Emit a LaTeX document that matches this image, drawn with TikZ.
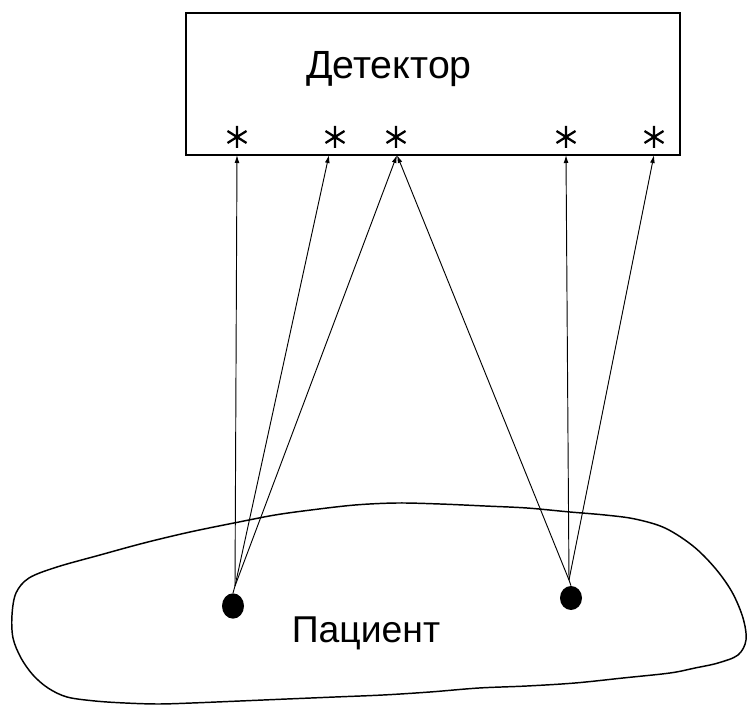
\documentclass[tikz,border=0pt]{standalone}
\usepackage{fontspec}
\setmainfont{Liberation Sans}
\usetikzlibrary{arrows.meta,shapes.geometric}
\begin{document}
\begin{tikzpicture}[x=0.75pt,y=-0.75pt,
  ray/.style={line width=0.7pt,-{Latex[length=6pt,width=3.6pt]}},
  boxline/.style={line width=1.5pt},
  blobline/.style={line width=1.1pt,line join=round},
  dotnode/.style={ellipse,fill=black,inner sep=0pt,minimum width=16.5pt,minimum height=19pt},
  txt/.style={inner sep=0pt},
  asterisk/.style={inner sep=0pt,minimum size=16pt},
  astline/.style={line width=1.7pt}]
\useasboundingbox (0,0) rectangle (751,706);
% detector box
\node[draw,boxline,minimum width=370.5pt,minimum height=106.5pt,anchor=north west,inner sep=0pt] (det) at (185,12) {};
\node[txt,font=\fontsize{29.5}{32}\selectfont] (dett) at (389,69) {Детектор};
% asterisks
\foreach \n/\x in {1/237,2/335,3/396,4/566,5/654}{
  \node[asterisk] (st\n) at (\x,137) {};
  \draw[astline] (st\n.center) +(0,-11) -- +(0,11)
        (st\n.center) +(-9.5,-6) -- +(9.5,6)
        (st\n.center) +(-9.5,6) -- +(9.5,-6);
}
% arrow targets on box bottom
\coordinate (t1) at (237,155);
\coordinate (t2) at (329,155);
\coordinate (t3) at (397,155);
\coordinate (t4) at (566,155);
\coordinate (t5) at (654,155);
% patient
\draw[blobline] plot[smooth cycle,tension=0.55] coordinates {
 (311,510) (355,505) (397,503) (440,504) (485,506) (527,508) (570,512) (605,515)
 (635,519) (665,528) (693,546) (715,568) (732,592) (743,618) (746,640) (738,655)
 (718,663) (695,668) (670,673) (623,678) (575,683) (527,686) (479,688) (430,692)
 (383,695) (335,697) (287,699) (240,701) (192,703) (158,704) (125,703) (95,701)
 (67,697) (48,688) (33,675) (21,658) (13,638) (12,615) (16,593) (29,578)
 (57,567) (100,555) (144,543) (190,532) (239,522) (275,515)};
\node[txt,font=\fontsize{28}{30}\selectfont] (pat) at (366,633) {Пациент};
% sources
\node[dotnode] (d1) at (233,606) {};
\node[dotnode,minimum height=18pt] (d2) at (571,598) {};
\coordinate (s1) at (235,586);
\coordinate (s2) at (569,580);
\draw[line width=0.7pt] (d1.north) -- (s1);
\draw[line width=0.7pt] (d2.north) -- (s2);
\foreach \t in {t1,t2,t3} \draw[ray] (s1) -- (\t);
\foreach \t in {t3,t4,t5} \draw[ray] (s2) -- (\t);
\end{tikzpicture}
\end{document}
